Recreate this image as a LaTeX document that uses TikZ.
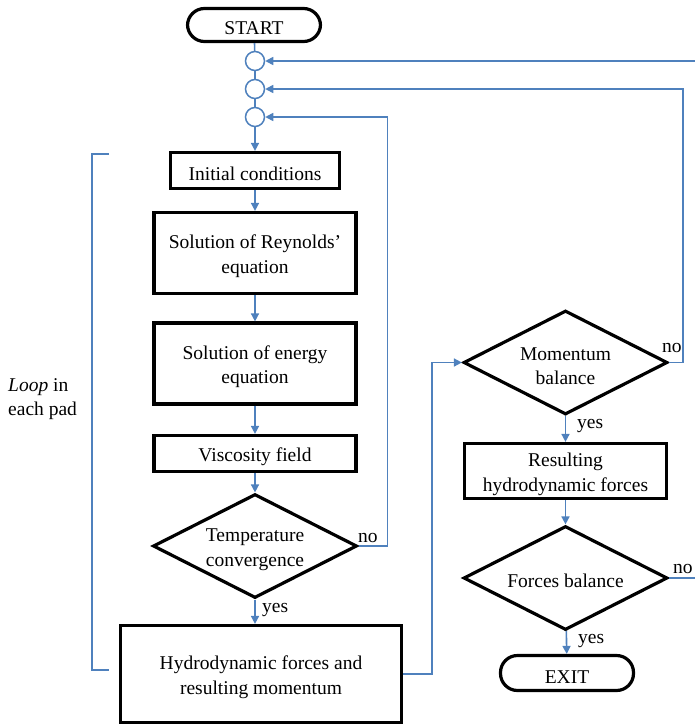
\documentclass[tikz,border=0pt]{standalone}
\usepackage{fontspec}
\setmainfont{Liberation Serif}
\usepackage{tikz}
\usetikzlibrary{shapes.geometric, arrows.meta, positioning}
\definecolor{flowblue}{HTML}{4F81BD}

\tikzset{
  txt/.style={font=\fontsize{19.5}{24.5}\selectfont},
  block/.style={txt, draw=black, line width=3.2pt, align=center, inner sep=0pt,
    execute at begin node={\rule{0pt}{#1}}},
  block/.default=20pt,
  term/.style={block, rounded corners=17pt},
  decision/.style={block=#1, diamond, aspect=2},
  decision/.default=20pt,
  joint/.style={circle, draw=flowblue, line width=1.5pt, minimum size=19pt, inner sep=0pt},
  flow/.style={draw=flowblue, line width=1.6pt, -{Triangle[length=8pt,width=8pt]}},
  link/.style={draw=flowblue, line width=1.6pt},
  answer/.style={txt, inner sep=0pt, anchor=base west},
}

\begin{document}
\begin{tikzpicture}[x=1pt, y=-1pt]
    \useasboundingbox (0,0) rectangle (694,726);

    % start and the three re-entry points
    \node[term, minimum width=133pt, minimum height=33pt] (start) at (254,25) {START};
    \node[joint] (c1) at (255,61) {};
    \node[joint] (c2) at (255,89) {};
    \node[joint] (c3) at (255,117) {};

    % per-pad loop
    \node[block, minimum width=169pt, minimum height=36pt] (init) at (255,170.5) {Initial conditions};
    \node[block=44.5pt, minimum width=202pt, minimum height=81pt] (reyn) at (255,253) {Solution of Reynolds'\\equation};
    \node[block=44.5pt, minimum width=202pt, minimum height=81pt] (energy) at (255,363.5) {Solution of energy\\equation};
    \node[block, minimum width=202pt, minimum height=36pt] (visc) at (255,453.5) {Viscosity field};
    \node[decision=44.5pt, minimum width=204pt, minimum height=104pt] (tconv) at (255,546) {Temperature\\convergence};
    \node[block=44.5pt, minimum width=281pt, minimum height=97pt] (hydro) at (261,674) {Hydrodynamic forces and\\resulting momentum};

    % equilibrium checks
    \node[decision=44.5pt, minimum width=204pt, minimum height=104pt] (mbal) at (565.5,362.5) {Momentum\\balance};
    \node[block=44.5pt, minimum width=202pt, minimum height=55pt] (result) at (565.5,471) {Resulting\\hydrodynamic forces};
    \node[decision, minimum width=204pt, minimum height=104pt] (fbal) at (565.5,578) {Forces balance};
    \node[term, minimum width=133pt, minimum height=35pt] (exit) at (567,673) {EXIT};

    % yes / no
    \node[answer] (tno) at (358,542) {no};
    \node[answer] (tyes) at (262,612) {yes};
    \node[answer] (mno) at (662,352) {no};
    \node[answer] (myes) at (577,428) {yes};
    \node[answer] (fno) at (673,573) {no};
    \node[answer] (fyes) at (578,643) {yes};

    % loop bracket
    \draw[flowblue, line width=1.1pt] (109,154) -- (92,154) -- (92,670) -- (109,670);
    \node[txt, anchor=west, align=left, inner sep=0pt] (looptxt) at (8,399) {\textit{Loop} in\\each pad};

    % connectors
    \draw[link] (start) -- (c1);
    \draw[link] (c1) -- (c2);
    \draw[link] (c2) -- (c3);
    \draw[flow] (c3) -- (init);
    \draw[flow] (init) -- (reyn);
    \draw[flow] (reyn) -- (energy);
    \draw[flow] (energy) -- (visc);
    \draw[flow] (visc) -- (tconv);
    \draw[flow] (tconv.south) -- (tconv.south |- hydro.north);
    \draw[flow] (tconv.east) -- ++(29,0) |- (c3.east);
    \draw[flow] (hydro.east) -- ++(29,0) |- (mbal.west);
    \draw[flow] (mbal) -- (result);
    \draw[flow] (mbal.east) -- ++(14,0) |- (c2.east);
    \draw[flow] (result) -- (fbal);
    \draw[flow] (fbal) -- (exit);
    \draw[flow] (fbal.east) -- ++(27,0) |- (c1.east);
\end{tikzpicture}
\end{document}
